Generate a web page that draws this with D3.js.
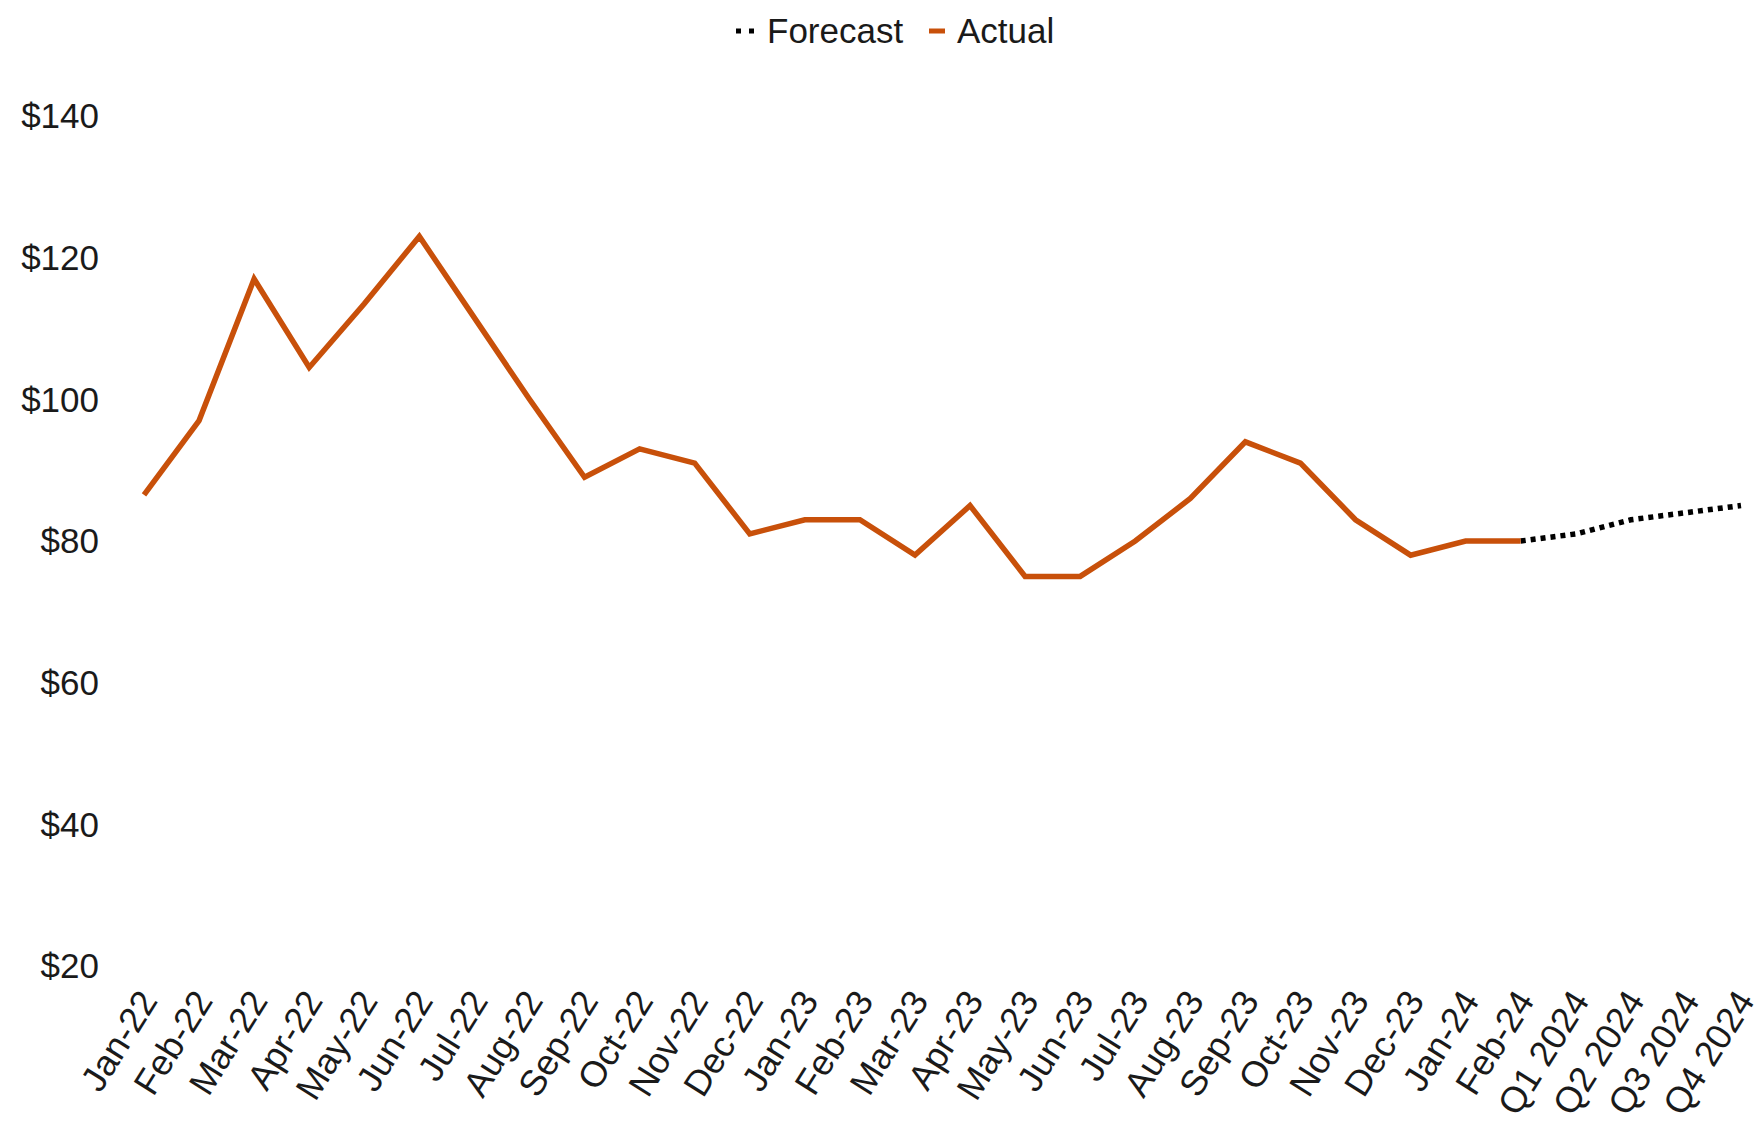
<!DOCTYPE html>
<html>
<head>
<meta charset="utf-8">
<script src="https://cdn.jsdelivr.net/npm/d3@7"></script>
<style>
  body { margin: 0; background: #fff; }
  text { font-family: "Liberation Sans", Arial, sans-serif; fill: #1a1a1a; }
</style>
</head>
<body>
<script>
var categories = ["Jan-22","Feb-22","Mar-22","Apr-22","May-22","Jun-22","Jul-22","Aug-22","Sep-22","Oct-22","Nov-22","Dec-22",
  "Jan-23","Feb-23","Mar-23","Apr-23","May-23","Jun-23","Jul-23","Aug-23","Sep-23","Oct-23","Nov-23","Dec-23",
  "Jan-24","Feb-24","Q1 2024","Q2 2024","Q3 2024","Q4 2024"];

var actual = [86.5, 97, 117, 104.5, 113.5, 123, 111.5, 100, 89, 93, 91, 81,
  83, 83, 78, 85, 75, 75, 80, 86, 94, 91, 83, 78, 80, 80];

// forecast starts at Feb-24
var forecastStart = 25;
var forecast = [80, 81, 83, 84, 85];

var yTicks = [20, 40, 60, 80, 100, 120, 140];

var width = 1764,
    height = 1125;

var svg = d3.select("body").append("svg")
    .attr("width", width)
    .attr("height", height);

var x = d3.scalePoint()
    .domain(categories)
    .range([144, 1741]);

var y = d3.scaleLinear()
    .domain([20, 140])
    .range([966, 116]);

// y axis labels
svg.append("g")
  .selectAll("text")
  .data(yTicks)
  .enter().append("text")
    .attr("x", 99)
    .attr("y", function(d) { return y(d); })
    .attr("dy", ".35em")
    .attr("text-anchor", "end")
    .style("font-size", "35px")
    .text(function(d) { return "$" + d; });

// x axis labels
svg.append("g")
  .selectAll("text")
  .data(categories)
  .enter().append("text")
    .attr("transform", function(d) { return "translate(" + (x(d) + 4) + ",994) rotate(-58)"; })
    .attr("dy", ".35em")
    .attr("text-anchor", "end")
    .style("font-size", "36px")
    .text(function(d) { return d; });

var line = d3.line()
    .x(function(d) { return d[0]; })
    .y(function(d) { return d[1]; });

var actualPts = actual.map(function(v, i) { return [x(categories[i]), y(v)]; });
var forecastPts = forecast.map(function(v, i) { return [x(categories[forecastStart + i]), y(v)]; });

svg.append("path")
    .datum(forecastPts)
    .attr("d", line)
    .attr("fill", "none")
    .attr("stroke", "#000")
    .attr("stroke-width", 5.5)
    .attr("stroke-dasharray", "5,5");

svg.append("path")
    .datum(actualPts)
    .attr("d", line)
    .attr("fill", "none")
    .attr("stroke", "#c8500a")
    .attr("stroke-width", 5.5)
    .attr("stroke-linejoin", "miter");

// legend
var legend = svg.append("g").attr("transform", "translate(0,31)");
legend.append("line")
    .attr("x1", 736).attr("x2", 754)
    .attr("y1", 0).attr("y2", 0)
    .attr("stroke", "#000")
    .attr("stroke-width", 5)
    .attr("stroke-dasharray", "5,8");
legend.append("text")
    .attr("x", 767).attr("y", 0)
    .attr("dy", ".35em")
    .style("font-size", "35px")
    .text("Forecast");
legend.append("line")
    .attr("x1", 929).attr("x2", 945)
    .attr("y1", 0).attr("y2", 0)
    .attr("stroke", "#c8500a")
    .attr("stroke-width", 5);
legend.append("text")
    .attr("x", 957).attr("y", 0)
    .attr("dy", ".35em")
    .style("font-size", "35px")
    .text("Actual");
</script>
</body>
</html>
